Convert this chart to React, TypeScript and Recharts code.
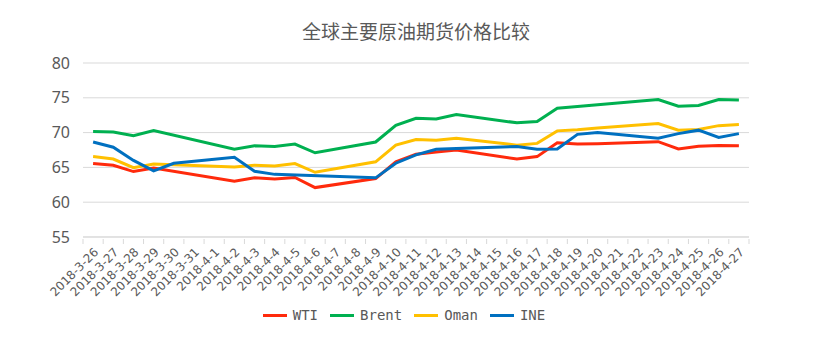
import React from 'react';
import { CartesianGrid, Line, LineChart, XAxis, YAxis } from 'recharts';

// trading days, weekends / holidays are null
const dates = [
  '2018-3-26', '2018-3-27', '2018-3-28', '2018-3-29', '2018-3-30', '2018-3-31', '2018-4-1',
  '2018-4-2', '2018-4-3', '2018-4-4', '2018-4-5', '2018-4-6', '2018-4-7', '2018-4-8',
  '2018-4-9', '2018-4-10', '2018-4-11', '2018-4-12', '2018-4-13', '2018-4-14', '2018-4-15',
  '2018-4-16', '2018-4-17', '2018-4-18', '2018-4-19', '2018-4-20', '2018-4-21', '2018-4-22',
  '2018-4-23', '2018-4-24', '2018-4-25', '2018-4-26', '2018-4-27',
];

const wti = [
  65.55, 65.3, 64.4, 64.9, null, null, null,
  63.0, 63.5, 63.35, 63.55, 62.1, null, null,
  63.4, 65.8, 66.9, 67.2, 67.5, null, null,
  66.2, 66.55, 68.55, 68.35, 68.4, null, null,
  68.7, 67.65, 68.05, 68.15, 68.1,
];

const brent = [
  70.15, 70.1, 69.55, 70.3, null, null, null,
  67.6, 68.1, 68.0, 68.35, 67.1, null, null,
  68.65, 71.05, 72.05, 71.95, 72.6, null, null,
  71.4, 71.6, 73.5, 73.75, 74.0, null, null,
  74.75, 73.8, 73.9, 74.75, 74.7,
];

const oman = [
  66.55, 66.2, 64.95, 65.5, null, null, null,
  65.05, 65.3, 65.2, 65.55, 64.3, null, null,
  65.8, 68.2, 69.0, 68.9, 69.2, null, null,
  68.2, 68.45, 70.25, 70.4, 70.65, null, null,
  71.3, 70.35, 70.45, 71.0, 71.15,
];

const ine = [
  68.65, 67.9, 66.0, 64.5, 65.6, null, null,
  66.45, 64.45, 64.0, null, null, null, null,
  63.5, 65.6, 66.8, 67.6, 67.7, null, null,
  68.0, 67.6, 67.65, 69.75, 70.0, null, null,
  69.2, 69.85, 70.35, 69.3, 69.85,
];

const yTicks = [55, 60, 65, 70, 75, 80];

const series = [
  { key: 'WTI', color: '#ff2a0c' },
  { key: 'Brent', color: '#00b050' },
  { key: 'Oman', color: '#ffc000' },
  { key: 'INE', color: '#0070c0' },
];

const data = dates.map((date, i) => ({
  date,
  WTI: wti[i],
  Brent: brent[i],
  Oman: oman[i],
  INE: ine[i],
}));

const HALF_BAND = 10.1;

function DateTick({ x, y, payload, index }: any) {
  return (
    <g>
      <line x1={x - HALF_BAND} x2={x - HALF_BAND} y1={y} y2={y + 5} stroke="#d9d9d9" />
      {index === dates.length - 1 && (
        <line x1={x + HALF_BAND} x2={x + HALF_BAND} y1={y} y2={y + 5} stroke="#d9d9d9" />
      )}
      <text
        x={0}
        y={0}
        transform={`translate(${x + 3},${y + 11}) rotate(-45)`}
        textAnchor="end"
        dy="0.35em"
        fontSize={12}
        fill="#595959"
        fontFamily="'DejaVu Sans', sans-serif"
      >
        {payload.value}
      </text>
    </g>
  );
}

export default function App() {
  return (
    <div style={{ position: 'absolute', left: 0, top: 0, width: 822, height: 363, background: '#fff' }}>
      <div
        style={{
          position: 'absolute',
          left: 0,
          width: 832,
          top: 18,
          textAlign: 'center',
          fontSize: 19,
          lineHeight: '26px',
          color: '#595959',
          fontFamily: "'Noto Sans CJK SC', sans-serif",
        }}
      >
        全球主要原油期货价格比较
      </div>

      <LineChart width={822} height={363} data={data} margin={{ top: 63, right: 73, bottom: 46, left: 0 }}>
        <CartesianGrid vertical={false} stroke="#d9d9d9" />
        <XAxis
          dataKey="date"
          interval={0}
          height={80}
          padding={{ left: HALF_BAND, right: HALF_BAND }}
          axisLine={{ stroke: '#d9d9d9' }}
          tickLine={false}
          tickSize={0}
          tick={<DateTick />}
        />
        <YAxis
          domain={[55, 80]}
          ticks={yTicks}
          width={83}
          axisLine={false}
          tickLine={false}
          tickSize={0}
          tickMargin={13}
          tick={{ fontSize: 16, fill: '#595959', fontFamily: "'Noto Sans', sans-serif" }}
        />
        {series.map((s) => (
          <Line
            key={s.key}
            type="linear"
            dataKey={s.key}
            stroke={s.color}
            strokeWidth={3}
            dot={false}
            connectNulls
            isAnimationActive={false}
          />
        ))}
      </LineChart>

      <div
        style={{
          position: 'absolute',
          left: 0,
          width: 808,
          top: 307,
          display: 'flex',
          justifyContent: 'center',
          alignItems: 'center',
          fontSize: 14,
          color: '#595959',
          fontFamily: "'DejaVu Sans Mono', monospace",
        }}
      >
        {series.map((s) => (
          <div key={s.key} style={{ display: 'flex', alignItems: 'center', margin: '0 6px' }}>
            <span style={{ display: 'inline-block', width: 24, height: 3, background: s.color, marginRight: 6 }} />
            <span>{s.key}</span>
          </div>
        ))}
      </div>
    </div>
  );
}
